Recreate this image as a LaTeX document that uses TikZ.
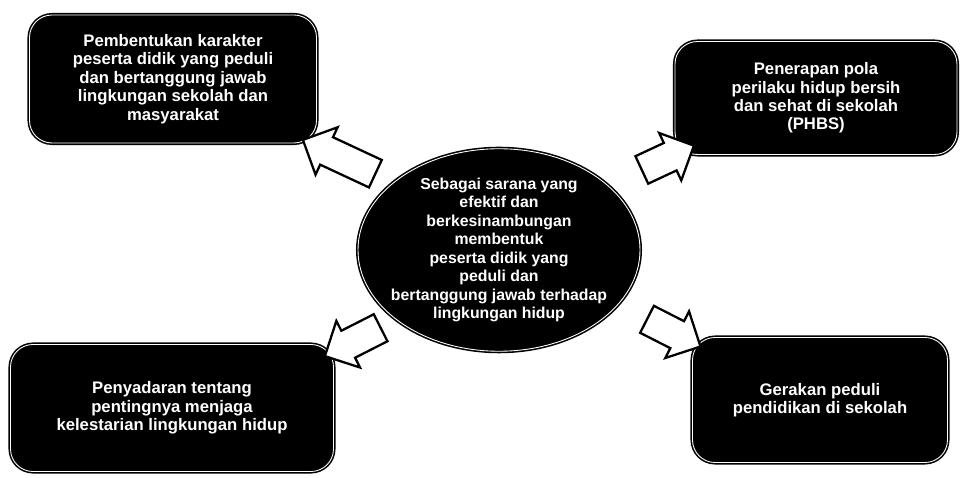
\documentclass[tikz,border=0pt]{standalone}
\usepackage{fontspec}
\setmainfont{Liberation Sans}
\usetikzlibrary{shapes.geometric,shapes.arrows}

\begin{document}
\begin{tikzpicture}[
  box/.style={rectangle, draw=black, fill=black, line width=0.9pt,
    double=white, double distance=0.5pt, rounded corners=0.45cm,
    align=center, text=white, font=\bfseries\fontsize{9.5}{10.5}\selectfont},
  core/.style={box, ellipse, inner xsep=-0.55cm, inner ysep=-0.3cm,
    font=\bfseries\fontsize{9}{10.5}\selectfont},
  blockarr/.style={single arrow, draw=black, fill=white, line width=1.3pt,
    inner sep=0pt, inner ysep=0.28cm, single arrow head extend=0.22cm}
]
\useasboundingbox (0,0) rectangle (19.22,9.56);

\node[core, minimum width=5.64cm, minimum height=4.05cm] (sarana) at (9.98,4.56)
  {Sebagai sarana yang\\efektif dan\\berkesinambungan\\membentuk\\peserta didik yang\\peduli dan\\bertanggung jawab terhadap\\lingkungan hidup};

\node[box, minimum width=5.74cm, minimum height=2.56cm] (karakter) at (3.46,7.98)
  {Pembentukan karakter\\peserta didik yang peduli\\dan bertanggung jawab\\lingkungan sekolah dan\\masyarakat};
\node[box, minimum width=5.64cm, minimum height=2.26cm] (phbs) at (16.32,7.6)
  {Penerapan pola\\perilaku hidup bersih\\dan sehat di sekolah\\(PHBS)};
\node[box, minimum width=6.46cm, minimum height=2.54cm] (sadar) at (3.44,1.4)
  {Penyadaran tentang\\pentingnya menjaga\\kelestarian lingkungan hidup};
\node[box, minimum width=5.1cm, minimum height=2.5cm] (gerakan) at (16.4,1.56)
  {Gerakan peduli\\pendidikan di sekolah};

\node[blockarr, minimum height=1.6cm,  rotate=155]   (a1) at (6.92,6.36) {};
\node[blockarr, minimum height=1.15cm, rotate=25]    (a2) at (13.22,6.34) {};
\node[blockarr, minimum height=1.25cm, rotate=207]   (a3) at (7.19,2.79) {};
\node[blockarr, minimum height=1.2cm,  rotate=-27]   (a4) at (13.34,2.97) {};
\end{tikzpicture}
\end{document}
